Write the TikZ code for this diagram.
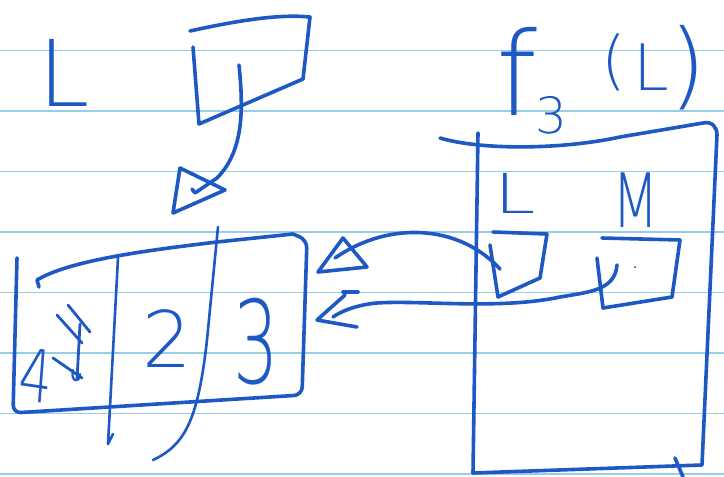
\documentclass[tikz,border=0pt]{standalone}
\usepackage{fontspec}
\newfontfamily\hand{DejaVu Sans ExtraLight}
\definecolor{ink}{RGB}{30,88,196}
\definecolor{ruling}{RGB}{150,205,232}
\newcommand\hsz[1]{\hand\fontsize{#1}{#1}\selectfont}
\tikzset{
  pen/.style={draw=ink,line width=3.6pt,line cap=round,line join=round},
  paperline/.style={draw=ruling,line width=1.8pt},
  txt/.style={text=ink,inner sep=0pt,anchor=base}
}
\begin{document}
\begin{tikzpicture}[x=1pt,y=-1pt]
\fill[white] (0,0) rectangle (724,477);
\useasboundingbox (0,0) rectangle (724,477);
% ruled paper
\foreach \yy in {50.5,111,171.5,232,292.5,353,413.5,474}
  \draw[paperline] (0,\yy) -- (724,\yy);

% ---- top left: L and its box
\node[txt,font=\hsz{92}] (lL) at (64,106) {L};
\coordinate (tb1) at (190,31);
\coordinate (tb2) at (310,17);
\coordinate (tb3) at (303,79);
\coordinate (tb4) at (199,124);
\coordinate (tb5) at (193,47);
\draw[pen] (tb1) .. controls (240,20) and (280,14) .. (tb2) -- (tb3) -- (tb4) -- (tb5);
% arrow down
\coordinate (a1s) at (239,65);
\coordinate (a1e) at (195,193);
\draw[pen] (a1s) .. controls (243,105) and (245,150) .. (217,178) -- (a1e) -- (192,189);
\coordinate (h1a) at (180,168);
\coordinate (h1b) at (225,190);
\coordinate (h1c) at (173,213);
\draw[pen] (h1a) -- (h1b) -- (h1c) -- (h1a);

% ---- bottom left box
\coordinate (lb1) at (17,258);
\coordinate (lb2) at (13,413);
\coordinate (lb3) at (302,395);
\coordinate (lb4) at (307,240);
\draw[pen,rounded corners=8pt] (lb1) -- (lb2) -- (lb3) -- (lb4) -- (293,234);
\draw[pen] (293,234) -- (217,242) .. controls (150,250) and (70,260) .. (37,280) -- (39,287);
% dividers
\draw[pen,line width=2.6pt] (118,258) -- (108,444) -- (113,434);
\draw[pen,line width=2.6pt] (218,227) -- (207,340) .. controls (198,420) and (185,445) .. (153,460);
% cell contents
\node[txt,font=\hsz{73},xscale=0.72,rotate=-6] (c4) at (34,402) {4};
\draw[pen,line width=2.8pt] (68,305) -- (90,332);
\draw[pen,line width=2.8pt] (57,315) -- (82,343);
\draw[pen,line width=2.8pt] (80,324) -- (77,380);
\draw[pen,line width=2.8pt] (53,358) -- (82,378);
\draw[pen,line width=2.2pt] (73,370) .. controls (70,382) and (80,384) .. (80,374);
\node[txt,font=\hsz{78}] (c2) at (167,367) {2};
\node[txt,font=\hsz{115},xscale=0.62] (c3) at (256,383) {3};

% ---- right: f3(L)
\node[txt,font=\hsz{116}] (tf) at (517,115) {f};
\node[txt,font=\hsz{50}] (t3) at (551,133) {3};
\node[txt,font=\hsz{64}] (tpo) at (614,82) {(};
\node[txt,font=\hsz{64}] (tL) at (651,90) {L};
\node[txt,font=\hsz{95}] (tpc) at (688,97) {)};

% big box
\coordinate (rb0) at (440,138);
\coordinate (rb1) at (703,123);
\coordinate (rb2) at (717,135);
\coordinate (rb3) at (702,465);
\coordinate (rb4) at (473,473);
\coordinate (rb5) at (478,133);
\draw[pen] (rb0) .. controls (480,150) and (560,150) .. (620,137) -- (rb1) .. controls (712,121) and (717,127) .. (rb2) -- (rb3) -- (rb4);
\draw[pen] (rb5) -- (rb4);
\draw[pen] (675,458) -- (683,477);

% inner L
\node[txt,font=\hsz{55},xscale=1.35] (iL) at (515,213) {L};
\draw[pen] (493,232) -- (547,234) -- (540,278) -- (498,297) -- (490,245);
% inner M
\node[txt,font=\hsz{75},xscale=0.72] (iM) at (636,227) {M};
\draw[pen] (602,238) -- (680,240) -- (672,297) -- (603,308) -- (597,258);
\fill[ink] (635,267) circle (1.2pt);

% upper arrow L -> left box
\coordinate (a2s) at (500,269);
\coordinate (a2e) at (335,258);
\draw[pen] (a2s) .. controls (460,225) and (390,220) .. (a2e);
\draw[pen] (318,272) -- (343,238) -- (367,267) -- cycle;

% lower arrow M -> left box
\coordinate (a3s) at (617,265);
\coordinate (a3e) at (333,317);
\draw[pen] (a3s) .. controls (615,290) and (590,292) .. (560,297)
  .. controls (500,310) and (420,300) .. (377,303)
  .. controls (355,305) and (340,312) .. (a3e);
\draw[pen] (345,295) -- (317,320) -- (357,327);
\draw[pen] (343,292) -- (358,292);
\end{tikzpicture}
\end{document}
